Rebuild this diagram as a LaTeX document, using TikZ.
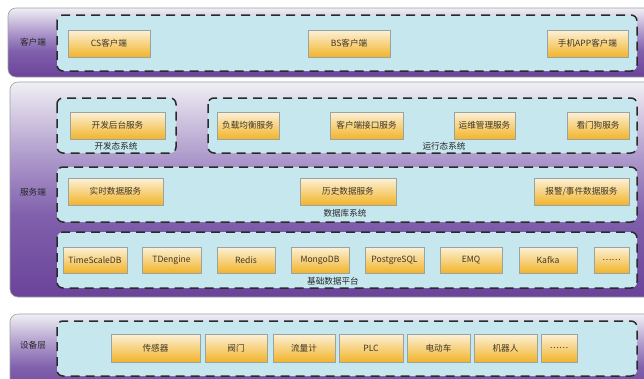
\documentclass[tikz,border=0pt]{standalone}
\usepackage{fontspec}
\setmainfont{Noto Sans CJK SC}
\definecolor{pdark}{HTML}{6B439A}
\definecolor{pmid}{HTML}{8060AC}
\definecolor{plav}{HTML}{AC97CA}
\definecolor{plight}{HTML}{F0EFF4}
\definecolor{cyanfill}{HTML}{C6E7EE}
\definecolor{dashcol}{HTML}{2A2A2A}
\definecolor{btntop}{HTML}{FCF1D8}
\definecolor{btnmid}{HTML}{F6C449}
\definecolor{btnbot}{HTML}{F2B42A}
\definecolor{btnline}{HTML}{9AA3A3}
\definecolor{btntext}{HTML}{3F3628}
\pgfdeclareverticalshading{panelshade}{100bp}{color(0bp)=(pdark); color(25bp)=(pdark); color(44bp)=(pmid); color(57bp)=(plav); color(75bp)=(plight); color(100bp)=(plight)}
\tikzset{
  panel/.style={draw=btnline, line width=0.6pt, rounded corners=8pt, shading=panelshade},
  group/.style={draw=dashcol, fill=cyanfill, line width=1.5pt, dash pattern=on 9pt off 6pt, rounded corners=6pt},
  btn/.style={draw=btnline, line width=0.6pt, top color=btntop, middle color=btnmid, bottom color=btnbot, inner sep=0pt, font=\fontsize{8.6}{9}\selectfont, text=btntext},
  sidelabel/.style={font=\fontsize{8.6}{9}\selectfont, text=black!85},
  grouplabel/.style={font=\fontsize{8.6}{9}\selectfont, text=black!85},
}
\newcommand\mkbtn[6]{\node[btn, minimum width={#4-#2}, minimum height={#5-#3}] (#1) at ({(#2+#4)/2},{(#3+#5)/2}) {#6};}
\begin{document}
\begin{tikzpicture}[x=1pt,y=-1pt]
\useasboundingbox (0,0) rectangle (644,378);
\clip (0,0) rectangle (644,378);
\fill[white] (0,0) rectangle (644,378);
% outer panels
\path[panel] (8,8) rectangle (665,77);
\path[panel] (10,82) rectangle (665,297);
\path[panel] (10,314) rectangle (665,400);
\node[sidelabel] (lclient) at (33,42) {客户端};
\node[sidelabel] (lserver) at (33,192) {服务端};
\node[sidelabel] (ldevice) at (33,345) {设备层};
% client group
\draw[group] (57,15) rectangle (637,71);
\mkbtn{cs}{68}{30}{150}{57}{CS客户端}
\mkbtn{bs}{308}{30}{390}{57}{BS客户端}
\mkbtn{app}{547}{30}{628}{57}{手机APP客户端}
% dev system
\draw[group] (57,98) rectangle (176,153);
\mkbtn{devsvc}{70}{112}{165}{139}{开发后台服务}
\node[grouplabel] (ldev) at (116,146.5) {开发态系统};
% runtime system
\draw[group] (208,98) rectangle (637,153);
\mkbtn{lb}{217}{112}{279}{139}{负载均衡服务}
\mkbtn{cif}{330}{112}{403}{139}{客户端接口服务}
\mkbtn{ops}{454}{112}{515}{139}{运维管理服务}
\mkbtn{wd}{567}{112}{629}{139}{看门狗服务}
\node[grouplabel] (lrun) at (444,146.5) {运行态系统};
% database system
\draw[group] (57,167) rectangle (637,222);
\mkbtn{rt}{68}{178}{163}{205}{实时数据服务}
\mkbtn{hist}{300}{178}{396}{205}{历史数据服务}
\mkbtn{alarm}{534}{178}{629}{205}{报警/事件数据服务}
\node[grouplabel] (ldb) at (345,213) {数据库系统};
% base data platform
\draw[group] (57,232) rectangle (637,288);
\mkbtn{tsdb}{63}{247}{127}{273}{TimeScaleDB}
\mkbtn{td}{142}{247}{201}{273}{TDengine}
\mkbtn{redis}{217}{247}{275}{273}{Redis}
\mkbtn{mongo}{291}{247}{349}{273}{MongoDB}
\mkbtn{pg}{365}{247}{424}{273}{PostgreSQL}
\mkbtn{emq}{440}{247}{502}{273}{EMQ}
\mkbtn{kafka}{519}{247}{577}{273}{Kafka}
\mkbtn{more1}{594}{247}{629}{273}{……}
\node[grouplabel] (lbase) at (333,281) {基础数据平台};
% device layer
\draw[group] (57,321) rectangle (637,376);
\mkbtn{sensor}{111}{334}{200}{362}{传感器}
\mkbtn{valve}{205}{334}{267}{362}{阀门}
\mkbtn{flow}{273}{334}{335}{362}{流量计}
\mkbtn{plc}{339}{334}{403}{362}{PLC}
\mkbtn{ev}{407}{334}{470}{362}{电动车}
\mkbtn{robot}{474}{334}{537}{362}{机器人}
\mkbtn{more2}{541}{334}{577}{362}{……}
\end{tikzpicture}
\end{document}
